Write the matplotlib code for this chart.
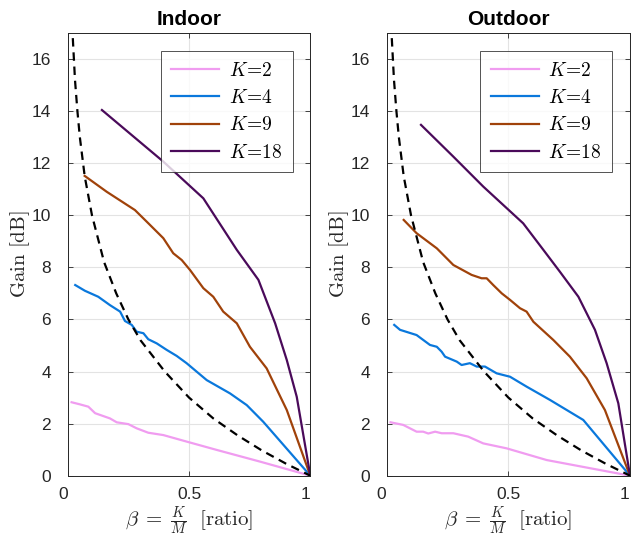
import matplotlib
matplotlib.use("Agg")
import matplotlib.pyplot as plt
from matplotlib.transforms import ScaledTranslation

plt.rcParams["mathtext.fontset"] = "cm"
plt.rcParams["font.family"] = ["Liberation Sans", "DejaVu Sans"]

# ---- Indoor ----
in_k2_x = [0.016, 0.05, 0.085, 0.113, 0.174, 0.202, 0.25, 0.284, 0.332, 0.394, 0.49, 0.614, 0.793, 1.0]
in_k2_y = [2.82, 2.74, 2.65, 2.40, 2.20, 2.05, 1.98, 1.82, 1.65, 1.56, 1.31, 0.99, 0.54, 0.0]

in_k4_x = [0.031, 0.071, 0.126, 0.174, 0.216, 0.236, 0.264, 0.284, 0.312, 0.332, 0.367, 0.408,
           0.449, 0.49, 0.573, 0.669, 0.738, 0.806, 1.0]
in_k4_y = [7.32, 7.10, 6.87, 6.55, 6.30, 5.94, 5.79, 5.53, 5.47, 5.24, 5.08, 4.83,
           4.60, 4.32, 3.67, 3.16, 2.71, 2.07, 0.0]

in_k9_x = [0.070, 0.161, 0.277, 0.326, 0.394, 0.435, 0.47, 0.504, 0.559, 0.60, 0.641, 0.697,
           0.751, 0.82, 0.903, 1.0]
in_k9_y = [11.51, 10.90, 10.20, 9.75, 9.12, 8.54, 8.28, 7.90, 7.20, 6.87, 6.30, 5.85,
           4.95, 4.12, 2.52, 0.0]

in_k18_x = [0.141, 0.394, 0.559, 0.697, 0.786, 0.855, 0.903, 0.944, 1.0]
in_k18_y = [14.04, 12.06, 10.65, 8.67, 7.52, 5.85, 4.44, 3.03, 0.0]

# ---- Outdoor ----
out_k2_x = [0.016, 0.068, 0.123, 0.15, 0.171, 0.199, 0.226, 0.274, 0.335, 0.397, 0.493, 0.658, 1.0]
out_k2_y = [2.05, 1.95, 1.69, 1.69, 1.62, 1.69, 1.63, 1.63, 1.50, 1.24, 1.05, 0.60, 0.0]

out_k4_x = [0.031, 0.055, 0.123, 0.178, 0.206, 0.226, 0.24, 0.288, 0.308, 0.342, 0.37, 0.404,
            0.452, 0.507, 0.575, 0.671, 0.808, 1.0]
out_k4_y = [5.79, 5.60, 5.40, 5.02, 4.95, 4.76, 4.57, 4.38, 4.25, 4.32, 4.19, 4.19,
            3.93, 3.80, 3.42, 2.91, 2.14, 0.0]

out_k9_x = [0.070, 0.123, 0.206, 0.274, 0.349, 0.39, 0.411, 0.438, 0.473, 0.507, 0.548, 0.575,
            0.603, 0.685, 0.753, 0.822, 0.897, 1.0]
out_k9_y = [9.82, 9.31, 8.73, 8.09, 7.71, 7.58, 7.58, 7.32, 7.00, 6.75, 6.43, 6.30,
            5.91, 5.21, 4.57, 3.74, 2.52, 0.0]

out_k18_x = [0.141, 0.274, 0.397, 0.561, 0.644, 0.712, 0.788, 0.856, 0.904, 0.952, 1.0]
out_k18_y = [13.47, 12.25, 11.10, 9.69, 8.67, 7.83, 6.87, 5.60, 4.32, 2.78, 0.0]

# Reference (dashed) curve, same in both panels
ref_x = [0.021, 0.03, 0.04, 0.05, 0.07, 0.10, 0.15, 0.20, 0.25, 0.30, 0.40, 0.50,
         0.60, 0.70, 0.80, 0.90, 1.0]
ref_y = [16.8, 15.2, 14.0, 13.0, 11.5, 10.0, 8.2, 7.0, 6.0, 5.2, 4.0, 3.0,
         2.2, 1.55, 0.97, 0.46, 0.0]

labels = [r"$K\!=\!2$", r"$K\!=\!4$", r"$K\!=\!9$", r"$K\!=\!18$"]
colors = ["#f09cf0", "#0a78dc", "#a0420a", "#4a0a5a"]

panels = [
    ("Indoor", [(in_k2_x, in_k2_y), (in_k4_x, in_k4_y), (in_k9_x, in_k9_y), (in_k18_x, in_k18_y)]),
    ("Outdoor", [(out_k2_x, out_k2_y), (out_k4_x, out_k4_y), (out_k9_x, out_k9_y), (out_k18_x, out_k18_y)]),
]

fig = plt.figure(figsize=(6.31, 5.38), dpi=100)
ax_rects = [[0.1073, 0.1158, 0.3845, 0.823], [0.6128, 0.1158, 0.3856, 0.823]]

dark = "#262626"
for rect, (title, series) in zip(ax_rects, panels):
    ax = fig.add_axes(rect)
    for (xs, ys), lab, c in zip(series, labels, colors):
        ax.plot(xs, ys, color=c, lw=1.6, label=lab, solid_joinstyle="round")
    ax.plot(ref_x, ref_y, color="black", lw=1.6, ls=(0, (3.8, 2.6)))
    ax.set_xlim(0, 1)
    ax.set_ylim(0, 17)
    ax.set_xticks([0, 0.5, 1])
    ax.set_xticklabels(["0", "0.5", "1"])
    ax.set_yticks(range(0, 17, 2))
    ax.grid(True, color="#e3e3e3", lw=0.8)
    ax.set_axisbelow(True)
    ax.tick_params(direction="in", length=3.5, width=0.6, colors=dark,
                   labelsize=12.5, top=True, right=True)
    ax.tick_params(axis="y", pad=12)
    ax.tick_params(axis="x", pad=8)
    # end labels sit slightly left of their ticks
    for i in (0, 2):
        lbl = ax.get_xticklabels()[i]
        lbl.set_transform(lbl.get_transform() + ScaledTranslation(-5 / 100, 0, fig.dpi_scale_trans))
    for s in ax.spines.values():
        s.set_color(dark)
        s.set_linewidth(0.7)
    ax.set_title(title, fontsize=15, fontweight="bold", pad=6)
    ax.set_ylabel(r"$\mathrm{Gain\ [dB]}$", fontsize=15, color=dark, labelpad=0)
    ax.set_xlabel(r"$\beta\;=\;\frac{K}{M}\ \ \mathrm{[ratio]}$", fontsize=15, color=dark, labelpad=2)
    leg = ax.legend(loc="upper right", bbox_to_anchor=(0.928, 0.959), borderaxespad=0,
                    fontsize=14, frameon=True, fancybox=False, edgecolor=dark,
                    handlelength=2.45, handletextpad=0.5, labelspacing=0.48,
                    borderpad=0.55)
    leg.get_frame().set_linewidth(0.7)

fig.savefig("out.png", dpi=100)
